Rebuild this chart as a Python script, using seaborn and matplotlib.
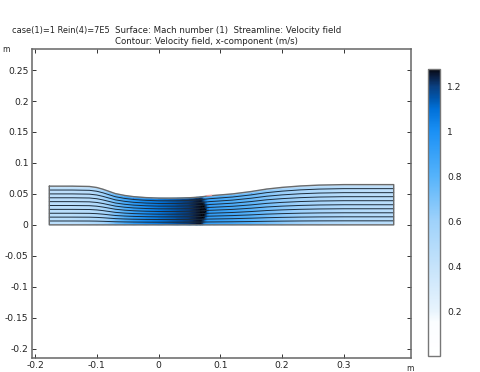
import matplotlib
matplotlib.use("Agg")
import matplotlib.pyplot as plt
from matplotlib.colors import LinearSegmentedColormap
import seaborn as sns
import numpy as np

stations = [-0.177, -0.14, -0.112, -0.1, -0.09, -0.08, -0.07, -0.055, -0.04, -0.02, 0.0, 0.03, 0.05, 0.062, 0.068, 0.071, 0.074, 0.077, 0.08, 0.083, 0.09, 0.12, 0.15, 0.175, 0.2, 0.23, 0.26, 0.3, 0.381]
top_wall = [0.0625, 0.0625, 0.062, 0.0603, 0.0575, 0.054, 0.0505, 0.0475, 0.0455, 0.044, 0.0432, 0.0432, 0.0438, 0.0445, 0.045, 0.0455, 0.0458, 0.0462, 0.0466, 0.047, 0.0475, 0.05, 0.0538, 0.0578, 0.0605, 0.0628, 0.0642, 0.065, 0.065]
eta_rows = [0.0, 0.04, 0.25, 0.5, 0.75, 0.96, 1.0]
mach_wall = [0.3, 0.3, 0.32, 0.34, 0.36, 0.39, 0.43, 0.48, 0.52, 0.56, 0.6, 0.7, 0.8, 0.9, 1.0, 0.9, 0.65, 0.6, 0.58, 0.55, 0.5, 0.45, 0.42, 0.39, 0.36, 0.33, 0.3, 0.26, 0.24]
mach_low = [0.46, 0.46, 0.5, 0.53, 0.57, 0.65, 0.74, 0.84, 0.93, 1.02, 1.07, 1.16, 1.21, 1.25, 1.26, 1.2, 0.95, 0.92, 0.92, 0.91, 0.9, 0.86, 0.8, 0.73, 0.66, 0.6, 0.55, 0.5, 0.46]
mach_lower = [0.46, 0.46, 0.49, 0.52, 0.55, 0.62, 0.71, 0.82, 0.92, 1.01, 1.07, 1.16, 1.21, 1.25, 1.27, 1.27, 1.26, 1.1, 0.93, 0.92, 0.91, 0.86, 0.8, 0.73, 0.66, 0.6, 0.55, 0.5, 0.46]
mach_mid = [0.46, 0.46, 0.48, 0.5, 0.53, 0.6, 0.69, 0.8, 0.9, 1.0, 1.07, 1.16, 1.21, 1.25, 1.27, 1.275, 1.275, 1.27, 1.1, 0.93, 0.91, 0.86, 0.8, 0.73, 0.66, 0.6, 0.55, 0.5, 0.46]
mach_upper = [0.45, 0.45, 0.47, 0.51, 0.56, 0.64, 0.73, 0.84, 0.93, 1.02, 1.08, 1.16, 1.21, 1.25, 1.27, 1.27, 1.26, 1.1, 0.92, 0.9, 0.88, 0.82, 0.76, 0.69, 0.62, 0.56, 0.52, 0.47, 0.43]
mach_high = [0.44, 0.44, 0.46, 0.52, 0.6, 0.69, 0.78, 0.88, 0.96, 1.04, 1.08, 1.16, 1.21, 1.24, 1.25, 1.18, 0.92, 0.9, 0.88, 0.86, 0.85, 0.78, 0.72, 0.66, 0.6, 0.54, 0.5, 0.46, 0.42]
mach_top = [0.3, 0.3, 0.3, 0.33, 0.36, 0.39, 0.43, 0.48, 0.52, 0.56, 0.6, 0.7, 0.8, 0.9, 0.95, 0.8, 0.6, 0.55, 0.52, 0.5, 0.45, 0.4, 0.36, 0.33, 0.3, 0.28, 0.26, 0.24, 0.22]
streamlines = [0.1, 0.2, 0.3, 0.4, 0.5, 0.6, 0.7, 0.8, 0.9]
contour_levels = [1.27]
mark_x = [0.078, 0.086]
mark_y = [0.0472, 0.0478]
x_ticks = [-0.2, -0.1, 0, 0.1, 0.2, 0.3]
x_labels = ["-0.2", "-0.1", "0", "0.1", "0.2", "0.3"]
y_ticks = [-0.2, -0.15, -0.1, -0.05, 0, 0.05, 0.1, 0.15, 0.2, 0.25]
y_labels = ["-0.2", "-0.15", "-0.1", "-0.05", "0", "0.05", "0.1", "0.15", "0.2", "0.25"]
bar_ticks = [0.2, 0.4, 0.6, 0.8, 1, 1.2]
bar_labels = ["0.2", "0.4", "0.6", "0.8", "1", "1.2"]
bar_min = 0.0
bar_max = 1.276
color_values = [0.0, 0.15, 0.2, 0.4, 0.6, 0.8, 1.0, 1.1, 1.15, 1.2, 1.25, 1.276]
color_stops = ["#ffffff", "#fbfdff", "#e8f4fd", "#c5e3fb", "#9fd2fb", "#55b3fb", "#1a90f5", "#0070d8", "#0055aa", "#0a3f80", "#0a1a38", "#050810"]
title_left = "case(1)=1 Rein(4)=7E5"
title_line1 = "Surface: Mach number (1)  Streamline: Velocity field"
title_line2 = "Contour: Velocity field, x-component (m/s)"

sns.set_theme(style="ticks")
plt.rcParams['font.family'] = ['DejaVu Sans']

cmap = LinearSegmentedColormap.from_list("mach", list(zip(np.array(color_values) / bar_max, color_stops)), N=512)

fig = plt.figure(figsize=(4.8, 3.72), dpi=100)
ax = fig.add_axes([32 / 480, 1 - 358 / 372, 379 / 480, 309 / 372])

xs = np.array(stations)
top = np.array(top_wall)
mach = np.array([mach_wall, mach_low, mach_lower, mach_mid, mach_upper, mach_high, mach_top])
X = np.tile(xs, (len(eta_rows), 1))
Y = np.outer(eta_rows, top)

mesh = ax.pcolormesh(X, Y, mach, cmap=cmap, vmin=bar_min, vmax=bar_max, shading='gouraud')
ax.contour(X, Y, mach, levels=contour_levels, colors='black', linewidths=0.5)

for frac in streamlines:
    sns.lineplot(x=xs, y=top * frac, color='#1c2c3c', linewidth=0.7, sort=False, estimator=None, ax=ax)

# channel outline
out_x = np.r_[xs, xs[::-1], xs[0]]
out_y = np.r_[top, np.zeros(len(xs)), top[0]]
sns.lineplot(x=out_x, y=out_y, color='#6a6a6a', linewidth=1.0, sort=False, estimator=None, ax=ax)
sns.lineplot(x=mark_x, y=mark_y, color='#f0a0a0', linewidth=0.9, sort=False, estimator=None, ax=ax)

ax.set_xlim(-0.205, 0.409)
ax.set_ylim(-0.215, 0.284)
ax.set_xticks(x_ticks)
ax.set_xticklabels(x_labels)
ax.set_yticks(y_ticks)
ax.set_yticklabels(y_labels)
ax.tick_params(direction='in', length=3, width=0.7, color='#333333', labelsize=6.6, labelcolor='#222222',
               top=True, right=True, pad=2.5)
for s in ax.spines.values():
    s.set_visible(True)
    s.set_color('#666666')
    s.set_linewidth(1.1)

cax = fig.add_axes([428 / 480, 1 - 356 / 372, 12 / 480, 287 / 372])
cb = fig.colorbar(mesh, cax=cax)
cb.set_ticks(bar_ticks)
cb.set_ticklabels(bar_labels)
cax.tick_params(direction='in', length=2, width=0.7, color='#333333', labelsize=6.6, labelcolor='#222222',
                left=True, right=True, pad=5)
cb.outline.set_edgecolor('#777777')
cb.outline.set_linewidth(1.0)

fig.text(12 / 480, 1 - 33 / 372, title_left, fontsize=5.95, color='#222222')
fig.text(115 / 480, 1 - 33 / 372, title_line1, fontsize=6.2, color='#222222')
fig.text(115 / 480, 1 - 44 / 372, title_line2, fontsize=6.2, color='#222222')
fig.text(2 / 480, 1 - 52 / 372, "m", fontsize=5.5, color='#222222')
fig.text(406 / 480, 1 - 371 / 372, "m", fontsize=5.5, color='#222222')

fig.savefig("out.png", dpi=100)
